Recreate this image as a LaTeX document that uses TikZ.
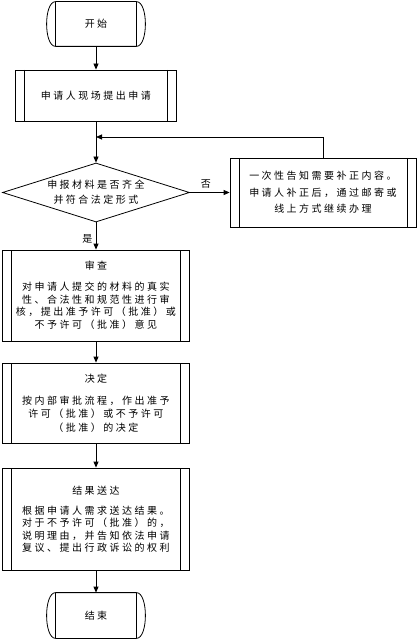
\documentclass[tikz,border=0pt]{standalone}
\usepackage{fontspec}
\newfontfamily\cjk{Noto Sans CJK SC}[LetterSpace=25]
\usetikzlibrary{arrows.meta,shapes.geometric}
\begin{document}
\begin{tikzpicture}[x=1bp,y=-1bp,line width=0.8bp,
  every node/.style={font=\cjk\fontsize{10bp}{12.7bp}\selectfont},
  arr/.style={-{Triangle[length=6bp,width=5bp]}},
  proc/.style={draw,inner sep=0pt,align=center,
    path picture={\draw ([xshift=9bp]path picture bounding box.north west) -- ([xshift=9bp]path picture bounding box.south west)
      ([xshift=-9bp]path picture bounding box.north east) -- ([xshift=-9bp]path picture bounding box.south east);}},
  term/.style={inner sep=0pt,minimum width=80bp,minimum height=44bp}
]
\path[use as bounding box] (0,0) rectangle (419,641);
% start
\node[term] (start) at (96,24) {开始};
\draw (start.north west) -- (start.north east) .. controls +(12,0) and +(12,0) .. (start.south east) -- (start.south west) .. controls +(-12,0) and +(-12,0) .. cycle;
\draw (start.north west) -- (start.south west) (start.north east) -- (start.south east);
% apply
\node[proc,minimum width=161bp,minimum height=51bp] (apply) at (96,95.5) {申请人现场提出申请};
% check
\node[diamond,draw,aspect=3.17,inner sep=0pt,minimum width=187bp,minimum height=59bp,align=center,
  font=\cjk\fontsize{10bp}{15bp}\selectfont] (check) at (96,192.5) {申报材料是否齐全\\并符合法定形式};
% fix
\node[proc,minimum width=186bp,minimum height=69bp,font=\cjk\fontsize{10bp}{16.5bp}\selectfont] (fix) at (323,192.5)
  {一次性告知需要补正内容。\\申请人补正后，通过邮寄或\\线上方式继续办理};
% review
\node[proc,minimum width=187bp,minimum height=91bp] (review) at (96,295.5)
  {审查\\[8bp]对申请人提交的材料的真实\\性、合法性和规范性进行审\\核，提出准予许可（批准）或\\不予许可（批准）意见};
% decide
\node[proc,minimum width=187bp,minimum height=80bp,font=\cjk\fontsize{10bp}{13.5bp}\selectfont] (decide) at (96,403)
  {决定\\[8bp]按内部审批流程，作出准予\\许可（批准）或不予许可\\（批准）的决定};
% deliver
\node[proc,minimum width=187bp,minimum height=102bp,font=\cjk\fontsize{10bp}{12.5bp}\selectfont] (deliver) at (96,519)
  {结果送达\\[7.5bp]根据申请人需求送达结果。\\对于不予许可（批准）的，\\说明理由，并告知依法申请\\复议、提出行政诉讼的权利};
% end
\node[term,minimum height=45bp] (end) at (96,615.5) {结束};
\draw (end.north west) -- (end.north east) .. controls +(12,0) and +(12,0) .. (end.south east) -- (end.south west) .. controls +(-12,0) and +(-12,0) .. cycle;
\draw (end.north west) -- (end.south west) (end.north east) -- (end.south east);
% connectors
\coordinate (m) at (96,137);
\draw[arr] (start.south) -- (apply.north);
\draw[arr] (apply.south) -- (check.north);
\draw[arr] (fix.north) |- (m);
\draw[arr] (check.east) -- node[above,pos=0.4] {否} (fix.west);
\draw[arr] (check.south) -- node[left,pos=0.6] {是} (review.north);
\draw[arr] (review.south) -- (decide.north);
\draw[arr] (decide.south) -- (deliver.north);
\draw[arr] (deliver.south) -- (end.north);
\end{tikzpicture}
\end{document}
